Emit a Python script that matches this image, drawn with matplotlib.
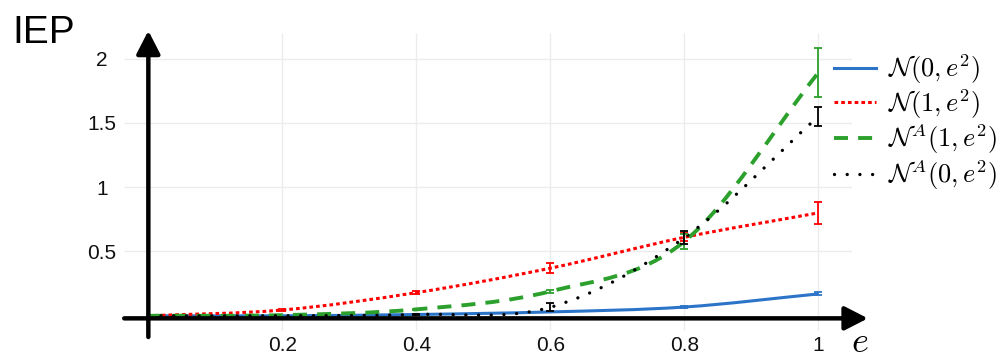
import numpy as np
import matplotlib
matplotlib.use('Agg')
import matplotlib.pyplot as plt
from matplotlib.path import Path
from matplotlib.patches import PathPatch
from matplotlib.lines import Line2D

plt.rcParams['font.family'] = ['Liberation Sans', 'DejaVu Sans']
plt.rcParams['mathtext.fontset'] = 'cm'

# --- values ---
e_vals = [0.0, 0.2, 0.4, 0.6, 0.8, 1.0]

iep_n0 = [0.0, 0.0, 0.01, 0.03, 0.068, 0.17]
err_n0 = [0, 0, 0, 0.004, 0.005, 0.012]
iep_n1 = [0.0, 0.045, 0.18, 0.37, 0.61, 0.80]
err_n1 = [0, 0.008, 0.012, 0.04, 0.03, 0.083]
iep_na1 = [0.0, 0.005, 0.05, 0.19, 0.578, 1.89]
err_na1 = [0, 0, 0.005, 0.01, 0.056, 0.19]
iep_na0 = [0.0, 0.0, 0.01, 0.066, 0.607, 1.55]
err_na0 = [0, 0, 0.004, 0.03, 0.052, 0.075]

labels = [r'$\mathcal{N}(0,e^2)$', r'$\mathcal{N}(1,e^2)$',
          r'$\mathcal{N}^A(1,e^2)$', r'$\mathcal{N}^A(0,e^2)$']
x_ticks = [0.2, 0.4, 0.6, 0.8, 1.0]
x_tick_labels = ['0.2', '0.4', '0.6', '0.8', '1']
y_ticks = [0.5, 1.0, 1.5, 2.0]
y_tick_labels = ['0.5', '1', '1.5', '2']

series = [
    (iep_n0, err_n0, dict(color='#2b74c8', lw=2.2, ls='-')),
    (iep_n1, err_n1, dict(color='#ff0000', lw=2.2, ls=(0, (1.2, 1.0)), capstyle='butt')),
    (iep_na1, err_na1, dict(color='#2ca02c', lw=2.8, ls=(0, (3.6, 2.6)), capstyle='butt')),
    (iep_na0, err_na0, dict(color='black', lw=2.4, ls=(0, (0.01, 3.8)), capstyle='round')),
]


def spline_path(x, y):
    # smooth curve through the points (Catmull-Rom as cubic Bezier segments)
    p = np.column_stack([x, y]).astype(float)
    tang = np.zeros_like(p)
    tang[1:-1] = (p[2:] - p[:-2]) / 2
    tang[0] = p[1] - p[0]
    tang[-1] = p[-1] - p[-2]
    verts = [p[0]]
    codes = [Path.MOVETO]
    for i in range(len(p) - 1):
        verts += [p[i] + tang[i] / 3, p[i + 1] - tang[i + 1] / 3, p[i + 1]]
        codes += [Path.CURVE4] * 3
    return Path(verts, codes)


fig = plt.figure(figsize=(10.02, 3.58), dpi=100)
ax = fig.add_axes([0.1213, 0.0820, 0.7288, 0.8443])
ax.set_xlim(-0.04, 1.05)
ax.set_ylim(-0.1, 2.25)
for s in ax.spines.values():
    s.set_visible(False)

ax.hlines(y_ticks, -0.036, 1.062, color='#ececec', lw=1, zorder=0)
ax.vlines(x_ticks, -0.11, 2.2, color='#ececec', lw=1, zorder=0, clip_on=False)

handles = []
for vals, errs, st in series:
    patch = PathPatch(spline_path(e_vals, vals), fill=False, edgecolor=st['color'],
                      lw=st['lw'], linestyle=st['ls'], capstyle=st.get('capstyle', 'butt'),
                      zorder=3)
    ax.add_patch(patch)
    mask = np.array(errs) > 0
    ax.errorbar(np.array(e_vals)[mask], np.array(vals)[mask], yerr=np.array(errs)[mask],
                fmt='none', ecolor=st['color'], elinewidth=1.3, capsize=3.2, capthick=1.3,
                zorder=4)
    handles.append(Line2D([], [], color=st['color'], lw=st['lw'], linestyle=st['ls'],
                          dash_capstyle=st.get('capstyle', 'butt')))

arrow = dict(arrowstyle='-|>,head_length=0.7,head_width=0.36', color='black',
             lw=3.2, mutation_scale=20, shrinkA=0, shrinkB=0)
ax.annotate('', xy=(1.074, -0.02), xytext=(-0.036, -0.02), arrowprops=arrow,
            annotation_clip=False, zorder=5)
ax.annotate('', xy=(0.0, 2.216), xytext=(0.0, -0.165), arrowprops=arrow,
            annotation_clip=False, zorder=5)

ax.set_xticks(x_ticks)
ax.set_xticklabels(x_tick_labels, fontsize=15, color='#111111')
ax.set_yticks(y_ticks)
ax.set_yticklabels(y_tick_labels, fontsize=15, color='#111111')
for lab in ax.get_yticklabels():
    lab.set_ha('center')
ax.tick_params(axis='x', length=0, pad=5)
ax.tick_params(axis='y', length=0, pad=14)

fig.text(12 / 1002, 1 - 43 / 358, 'IEP', fontsize=28, va='baseline', ha='left')
fig.text(860 / 1002, 1 - 352 / 358, '$e$', fontsize=26, va='baseline', ha='center')

fig.legend(handles, labels, loc='upper left', bbox_to_anchor=(0.832, 0.853),
           frameon=False, fontsize=19, handlelength=1.6, handletextpad=0.45,
           labelspacing=0.02, borderpad=0, borderaxespad=0)

fig.savefig('out.png', dpi=100)
